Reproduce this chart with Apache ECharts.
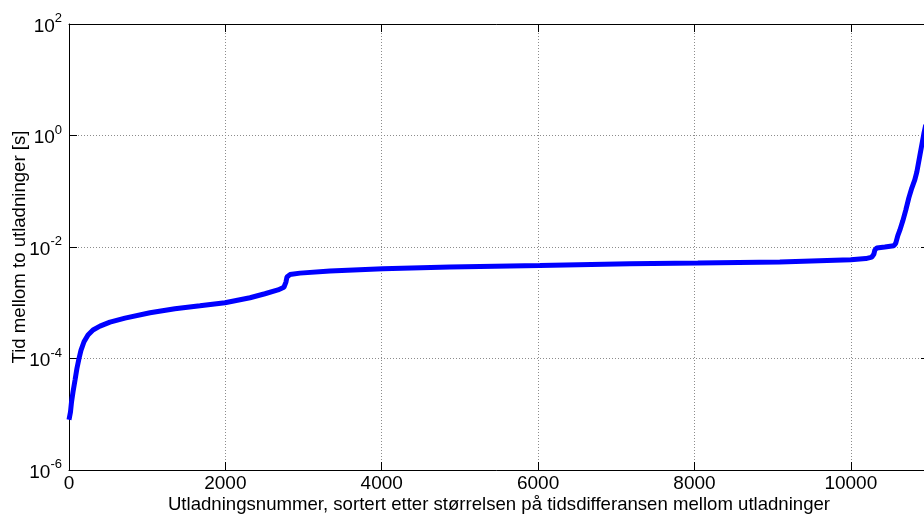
<!DOCTYPE html>
<html>
<head>
<meta charset="utf-8">
<script src="https://cdn.jsdelivr.net/npm/echarts@6/dist/echarts.min.js"></script>
<style>
html,body{margin:0;padding:0;background:#fff;}
#chart{width:924px;height:514px;}
</style>
</head>
<body>
<div id="chart"></div>
<script>
// Sorted discharge index (x) and time between discharges in seconds (y)
const dischargeIndex = [0, 19, 32, 51, 77, 102, 128, 153, 192, 243, 307, 396, 524, 716, 1036, 1355, 1675, 1995, 2315, 2506, 2673, 2749, 2775, 2788, 2826, 2954, 3338, 4015, 4872, 6023, 7174, 8043, 9092, 10000, 10192, 10269, 10294, 10307, 10332, 10435, 10550, 10575, 10601, 10627, 10665, 10703, 10742, 10780, 10818, 10844, 10882, 10908, 10934, 10959];
const timeDiff = [8e-6, 1.1e-5, 1.65e-5, 2.5e-5, 4.1e-5, 6.7e-5, 1.0e-4, 1.4e-4, 2.0e-4, 2.65e-4, 3.25e-4, 3.8e-4, 4.5e-4, 5.3e-4, 6.6e-4, 7.8e-4, 8.8e-4, 1.0e-3, 1.23e-3, 1.45e-3, 1.7e-3, 1.9e-3, 2.35e-3, 2.9e-3, 3.2e-3, 3.4e-3, 3.7e-3, 4.07e-3, 4.37e-3, 4.65e-3, 5.0e-3, 5.15e-3, 5.4e-3, 5.9e-3, 6.2e-3, 6.6e-3, 7.4e-3, 8.8e-3, 9.6e-3, 1.0e-2, 1.05e-2, 1.17e-2, 1.6e-2, 2.0e-2, 2.95e-2, 4.6e-2, 7.6e-2, 0.114, 0.16, 0.22, 0.43, 0.68, 1.07, 1.55];
const yTickValues = [1e-6, 1e-4, 1e-2, 1, 100];
const xLabel = 'Utladningsnummer, sortert etter størrelsen på tidsdifferansen mellom utladninger';
const yLabel = 'Tid mellom to utladninger [s]';

const FONT = '"Liberation Sans", Arial, Helvetica, sans-serif';
const chart = echarts.init(document.getElementById('chart'), null, {renderer: 'canvas'});
const seriesData = dischargeIndex.map((n, i) => [n, timeDiff[i]]);
const gridLine = {show: true, lineStyle: {color: '#8c8c8c', type: [1, 2], width: 1}};
const axisLine = {show: true, onZero: false, lineStyle: {color: '#000', width: 1}};
const tick = {show: true, inside: true, length: 8, lineStyle: {color: '#000', width: 1}};

chart.setOption({
  animation: false,
  backgroundColor: '#fff',
  grid: {left: 69, right: -5, top: 24, bottom: 44, containLabel: false, outerBoundsMode: 'none'},
  xAxis: [{
    type: 'value', min: 0, max: 11000, interval: 2000, position: 'bottom',
    axisLine: axisLine, axisTick: tick, splitLine: gridLine,
    axisLabel: {color: '#000', fontSize: 19, fontFamily: FONT, margin: 4, showMaxLabel: false,
      formatter: v => String(v)},
    name: xLabel, nameLocation: 'middle', nameGap: 25, nameMoveOverlap: false,
    nameTextStyle: {color: '#000', fontSize: 18.6, fontFamily: FONT}
  }, {
    type: 'value', min: 0, max: 11000, interval: 2000, position: 'top',
    axisLine: axisLine, axisTick: tick, splitLine: {show: false}, axisLabel: {show: false}
  }],
  yAxis: [{
    type: 'log', logBase: 10, min: 1e-6, max: 100, position: 'left',
    axisLine: axisLine,
    axisTick: Object.assign({customValues: yTickValues}, tick),
    splitLine: gridLine, minorTick: {show: false},
    axisLabel: {
      customValues: yTickValues, margin: 7,
      formatter: v => '{b|10}{s|' + Math.round(Math.log10(v)) + '}',
      rich: {
        b: {fontSize: 19, fontFamily: FONT, color: '#000', verticalAlign: 'bottom', lineHeight: 24},
        s: {fontSize: 13, fontFamily: FONT, color: '#000', verticalAlign: 'top', lineHeight: 24}
      }
    },
    name: yLabel, nameLocation: 'middle', nameGap: 40, nameMoveOverlap: false,
    nameTextStyle: {color: '#000', fontSize: 18.6, fontFamily: FONT}
  }, {
    type: 'log', logBase: 10, min: 1e-6, max: 100, position: 'right',
    axisLine: axisLine,
    axisTick: Object.assign({customValues: yTickValues}, tick),
    splitLine: {show: false}, axisLabel: {show: false}
  }],
  series: [{
    type: 'line', xAxisIndex: 0, yAxisIndex: 0, data: seriesData,
    showSymbol: false, symbol: 'none', smooth: false,
    lineStyle: {color: '#0000ff', width: 5},
    clip: true
  }]
});
</script>
</body>
</html>
